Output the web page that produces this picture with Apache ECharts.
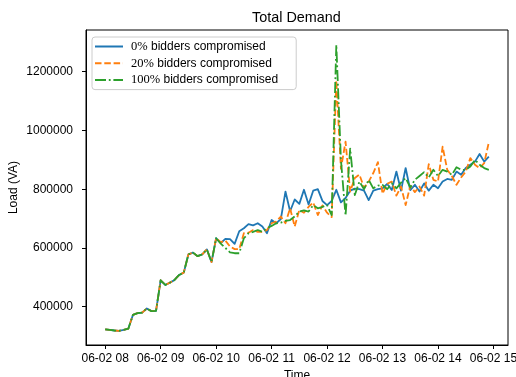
<!DOCTYPE html>
<html>
<head>
<meta charset="utf-8">
<script src="https://cdn.jsdelivr.net/npm/echarts@6/dist/echarts.min.js"></script>
<style>
  html, body { margin: 0; padding: 0; background: #fff; }
  #chart { width: 516px; height: 377px; }
</style>
</head>
<body>
<div id="chart"></div>
<script>
// Total demand under three compromise scenarios, sampled every 5 minutes from 08:00
const seriesNames = ['0% bidders compromised', '20% bidders compromised', '100% bidders compromised'];
const startHour = 8;
const stepMinutes = 5;

const load0 = [
  323000, 321000, 319000, 318000, 321000, 325000, 372000, 378000, 380000, 394000, 385000, 386000,
  490000, 474000, 482000, 491000, 508000, 516000, 578000, 584000, 572000, 578000, 595000, 552000,
  633000, 617000, 631000, 630000, 614000, 657000, 667000, 681000, 677000, 684000, 673000, 650000,
  695000, 684000, 698000, 792000, 725000, 765000, 750000, 798000, 748000, 795000, 800000, 760000,
  746000, 760000, 798000, 755000, 770000, 795000, 802000, 800000, 795000, 763000, 795000, 800000,
  803000, 818000, 797000, 860000, 795000, 872000, 797000, 815000, 792000, 820000, 795000, 815000,
  803000, 826000, 835000, 832000, 860000, 849000, 872000, 883000, 894000, 920000, 894000, 911000
];
const load20 = [
  323000, 321000, 319000, 318000, 321000, 325000, 372000, 378000, 380000, 394000, 385000, 386000,
  490000, 474000, 482000, 491000, 508000, 516000, 578000, 584000, 572000, 578000, 595000, 552000,
  633000, 620000, 625000, 605000, 596000, 596000, 650000, 652000, 661000, 655000, 655000, 661000,
  684000, 690000, 707000, 684000, 735000, 673000, 729000, 720000, 740000, 755000, 712000, 745000,
  720000, 705000, 1170000, 870000, 962000, 792000, 838000, 850000, 805000, 826000, 855000, 892000,
  785000, 818000, 826000, 778000, 809000, 746000, 812000, 790000, 809000, 778000, 885000, 832000,
  826000, 945000, 866000, 845000, 815000, 840000, 860000, 906000, 883000, 872000, 889000, 960000
];
const load100 = [
  323000, 321000, 319000, 318000, 321000, 325000, 372000, 378000, 380000, 394000, 385000, 386000,
  490000, 474000, 482000, 491000, 508000, 516000, 578000, 584000, 572000, 578000, 595000, 552000,
  633000, 615000, 600000, 585000, 582000, 582000, 633000, 650000, 655000, 661000, 655000, 667000,
  675000, 684000, 686000, 692000, 695000, 707000, 724000, 728000, 724000, 746000, 735000, 740000,
  746000, 712000, 1292000, 900000, 710000, 938000, 780000, 826000, 800000, 832000, 803000, 812000,
  815000, 800000, 820000, 803000, 822000, 838000, 806000, 832000, 845000, 858000, 840000, 866000,
  845000, 866000, 860000, 849000, 875000, 866000, 866000, 877000, 900000, 883000, 872000, 866000
];

const xTickHours = [8, 9, 10, 11, 12, 13, 14, 15];
const xTickLabels = ['06-02 08', '06-02 09', '06-02 10', '06-02 11', '06-02 12', '06-02 13', '06-02 14', '06-02 15'];
const yTicks = [400000, 600000, 800000, 1000000, 1200000];

const colors = ['#1f77b4', '#ff7f0e', '#2ca02c'];
const dashes = ['solid', [6.5, 2.8], [11, 2.8, 1.8, 2.8]];
const SANS = '"Liberation Sans", Arial, Helvetica, sans-serif';
const SERIF = '"Liberation Serif", "Times New Roman", serif';

const hours = load0.map((_, i) => startHour + i * stepMinutes / 60);
const allLoads = [load0, load20, load100];

const chart = echarts.init(document.getElementById('chart'), null, { renderer: 'canvas' });

const option = {
  animation: false,
  backgroundColor: '#ffffff',
  title: {
    text: 'Total Demand',
    left: 252,
    top: 11,
    padding: 0,
    textStyle: { fontFamily: SANS, fontSize: 14.4, fontWeight: 'normal', color: '#000' }
  },
  legend: {
    orient: 'vertical',
    left: 92,
    top: 37,
    padding: [3, 18, 3, 2],
    itemGap: 3.8,
    itemWidth: 28,
    itemHeight: 14,
    selectedMode: false,
    backgroundColor: 'rgba(255,255,255,0.8)',
    borderColor: '#cccccc',
    borderWidth: 1,
    borderRadius: 3,
    itemStyle: { opacity: 0 },
    data: seriesNames,
    formatter: function (name) {
      const k = name.indexOf('%');
      return '{m|' + name.slice(0, k + 1) + '}' + name.slice(k + 1);
    },
    textStyle: {
      fontFamily: SANS,
      fontSize: 12,
      color: '#000',
      padding: [0, 0, 0, 3],
      rich: { m: { fontFamily: SERIF, fontSize: 12.5, color: '#000' } }
    }
  },
  grid: {
    left: 86, right: 8, top: 30, bottom: 32,
    containLabel: false,
    outerBoundsMode: 'none',
    show: true, borderColor: '#000', borderWidth: 1, backgroundColor: 'transparent'
  },
  xAxis: {
    type: 'value',
    min: 7.654,
    max: 15.262,
    name: 'Time',
    nameLocation: 'middle',
    nameGap: 25,
    nameMoveOverlap: false,
    nameTextStyle: { fontFamily: SANS, fontSize: 12, color: '#000' },
    axisLine: { show: true, onZero: false, lineStyle: { color: '#000', width: 1 } },
    axisTick: { show: true, length: 4, customValues: xTickHours, lineStyle: { color: '#000', width: 1 } },
    axisLabel: {
      customValues: xTickHours,
      margin: 8,
      fontFamily: SANS, fontSize: 12, color: '#000',
      formatter: function (v) { return xTickLabels[xTickHours.indexOf(Math.round(v))]; }
    },
    splitLine: { show: false }
  },
  yAxis: {
    type: 'value',
    min: 269600,
    max: 1342000,
    name: 'Load (VA)',
    nameLocation: 'middle',
    nameGap: 66,
    nameMoveOverlap: false,
    nameTextStyle: { fontFamily: SANS, fontSize: 12, color: '#000' },
    axisLine: { show: true, onZero: false, lineStyle: { color: '#000', width: 1 } },
    axisTick: { show: true, length: 4, customValues: yTicks, lineStyle: { color: '#000', width: 1 } },
    axisLabel: {
      customValues: yTicks,
      margin: 13,
      fontFamily: SANS, fontSize: 12, color: '#000',
      formatter: function (v) { return String(v); }
    },
    splitLine: { show: false }
  },
  series: allLoads.map((vals, s) => ({
    type: 'line',
    name: seriesNames[s],
    data: hours.map((h, i) => [h, vals[i]]),
    symbol: 'none',
    showSymbol: false,
    silent: true,
    itemStyle: { color: colors[s] },
    lineStyle: { color: colors[s], width: 1.8, type: dashes[s], join: 'round', cap: 'butt' },
    emphasis: { disabled: true }
  }))
};

chart.setOption(option);
</script>
</body>
</html>
